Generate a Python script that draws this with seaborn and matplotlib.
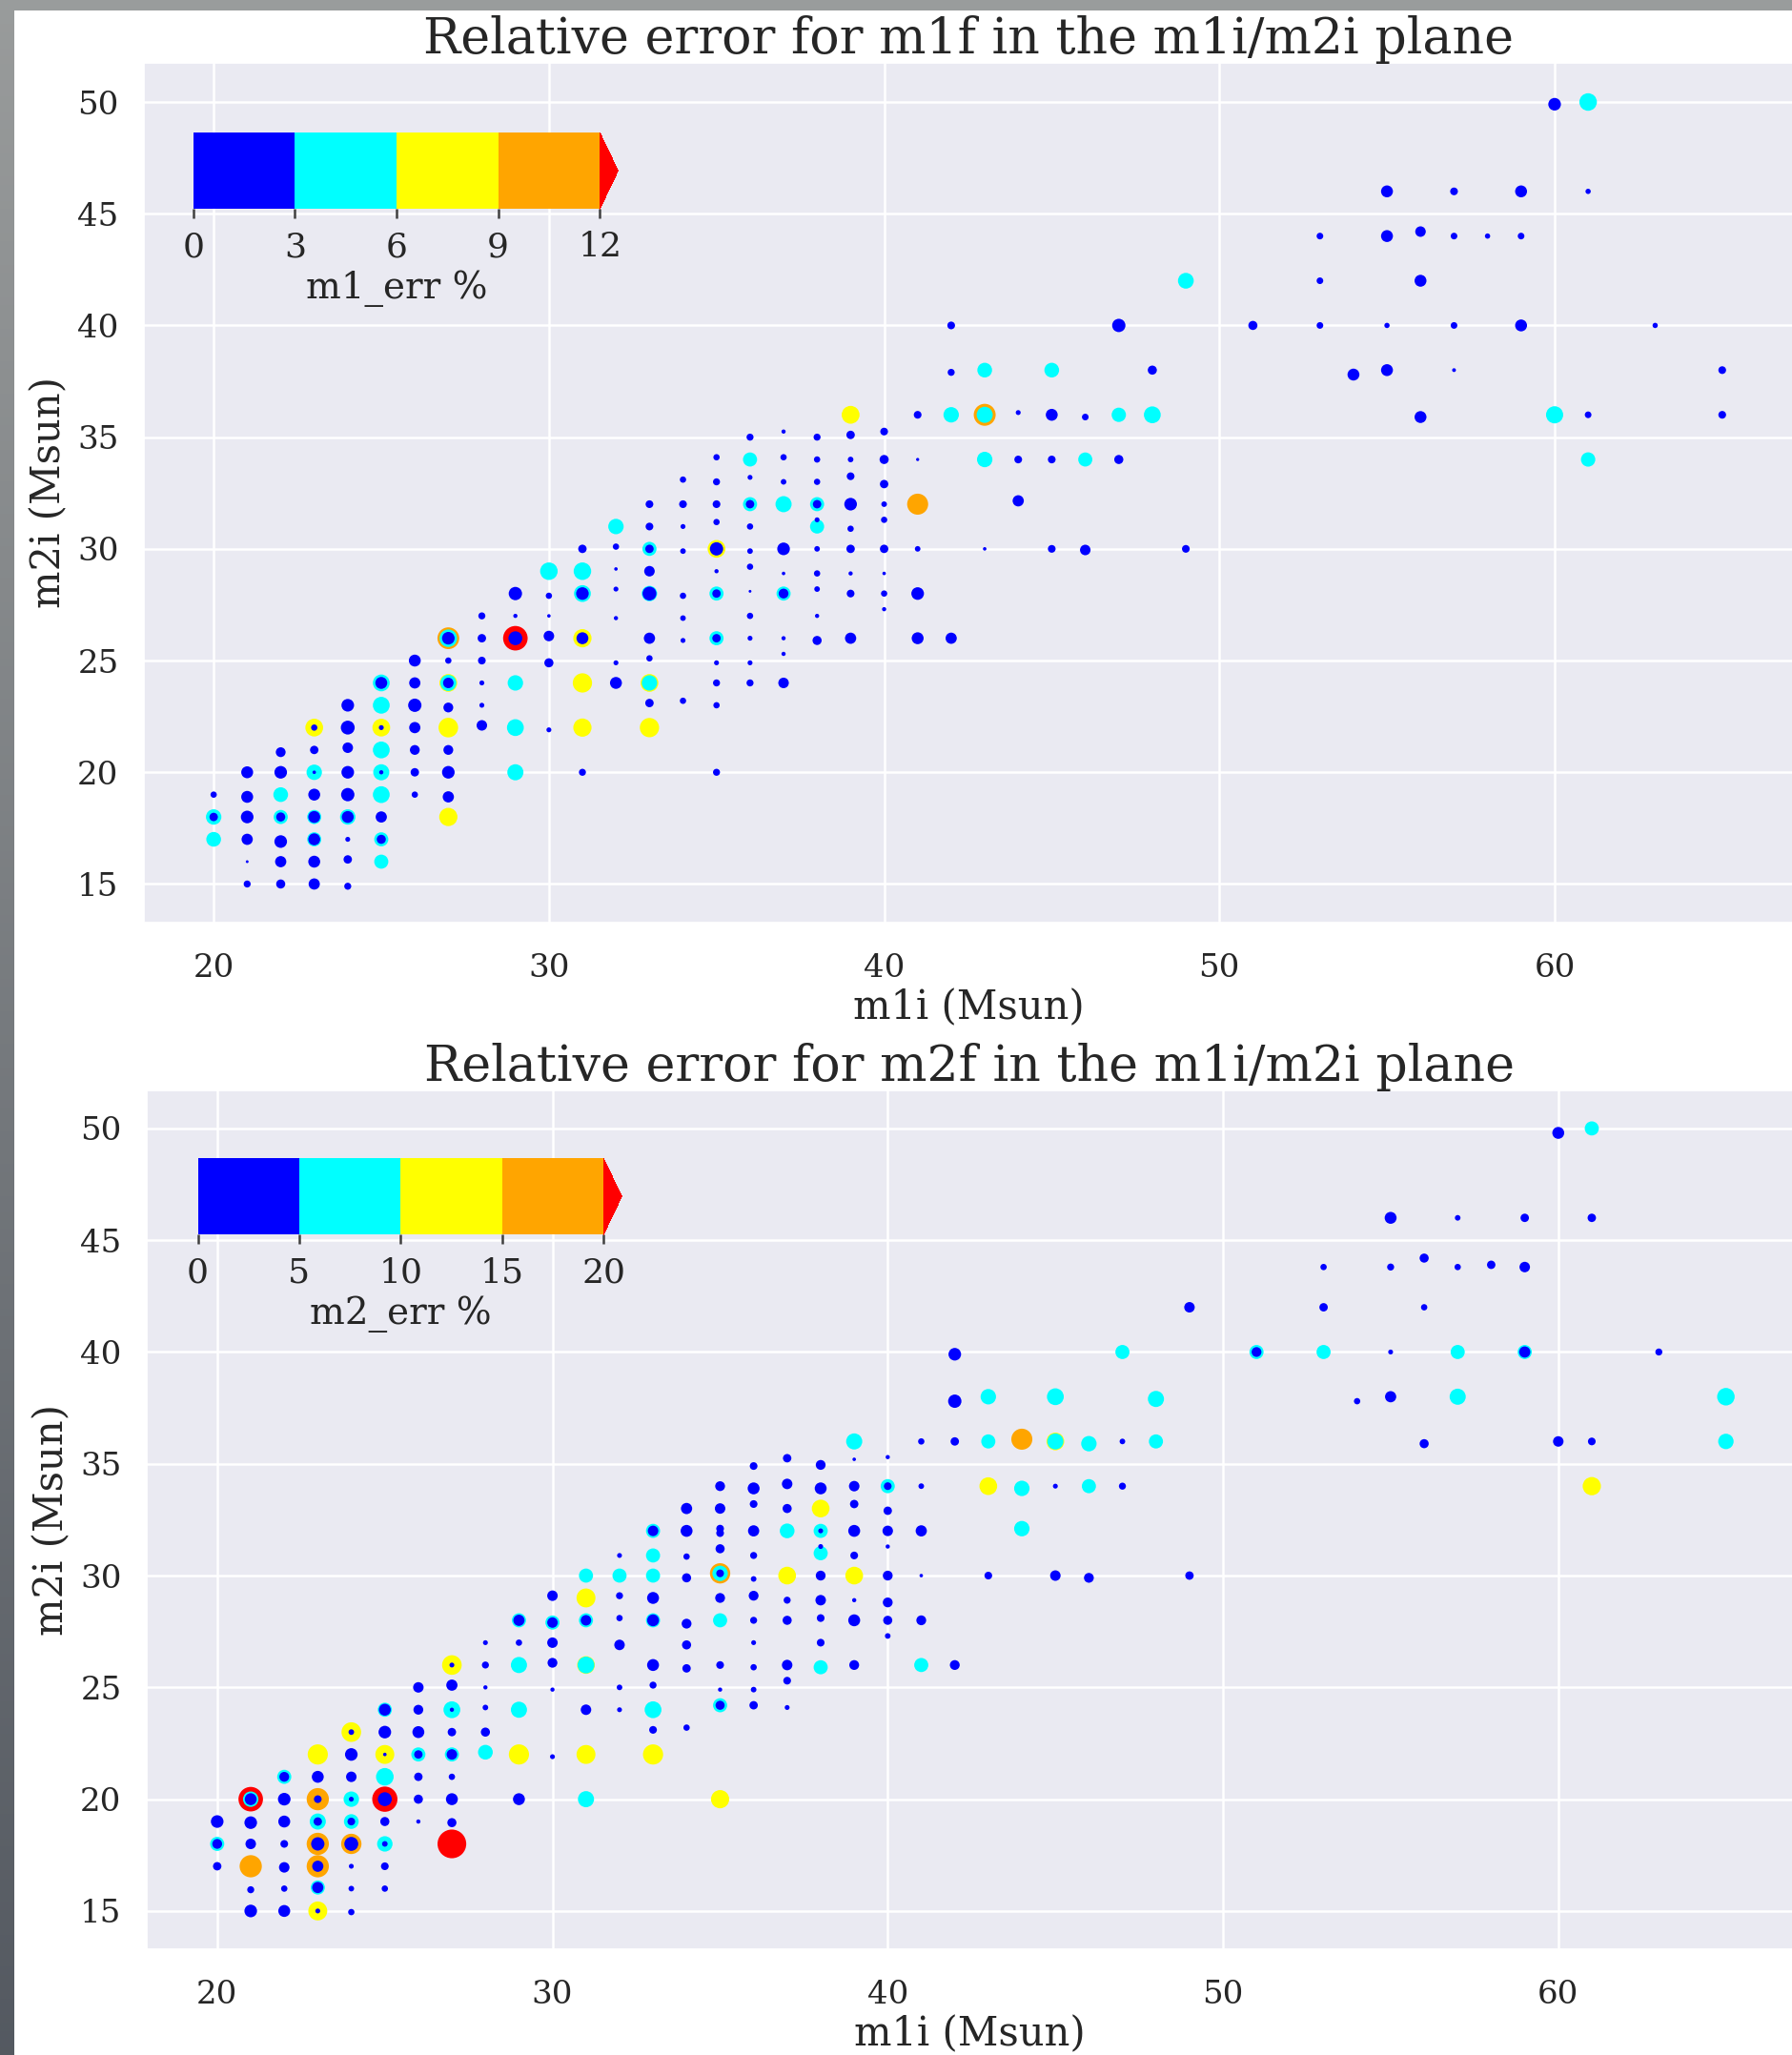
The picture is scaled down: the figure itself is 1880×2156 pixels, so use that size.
import numpy as np
import pandas as pd
import matplotlib
matplotlib.use("Agg")
import matplotlib.pyplot as plt
import matplotlib.colors as mcolors
from matplotlib.patches import Rectangle
import seaborn as sns

# ---------------- data: relative error of the final masses ----------------
# top panel: m1f error (%)
m1_m1i = [60, 61,
          55, 57, 59, 61,
          53, 55, 56, 57, 58, 59,
          49, 53, 56,
          42, 47, 51, 53, 55, 57, 59, 63,
          42, 43, 45, 48, 54, 55, 57, 65,
          39, 41, 42, 43, 43, 44, 45, 46, 47, 48, 56, 60, 61, 65,
          36, 37, 38, 39, 40,
          35, 36, 37, 38, 39, 40, 41, 43, 44, 45, 46, 47, 61,
          34, 35, 36, 37, 38, 39, 40,
          33, 34, 35, 36, 36, 37, 38, 38, 39, 40, 41, 44,
          32, 33, 34, 35, 36, 38, 38, 39, 40,
          31, 32, 33, 33, 34, 35, 35, 36, 37, 38, 39, 40, 41, 43, 45, 46, 49,
          30, 31, 32, 33, 35, 36, 37, 38, 39, 40,
          29, 30, 31, 31, 32, 33, 33, 34, 35, 35, 36, 37, 37, 38, 39, 40, 41,
          28, 29, 30, 32, 34, 36, 38, 40,
          27, 27, 27, 28, 29, 29, 30, 31, 31, 33, 34, 35, 35, 36, 37, 38, 39, 41, 42,
          26, 27, 28, 30, 32, 33, 35, 36, 37,
          25, 25, 26, 27, 27, 27, 28, 29, 31, 32, 33, 33, 35, 36, 37,
          24, 25, 26, 27, 28, 33, 34, 35,
          23, 23, 24, 25, 25, 26, 27, 28, 29, 30, 31, 33,
          22, 23, 24, 25, 26, 27,
          21, 22, 23, 23, 24, 25, 25, 26, 27, 29, 31, 35,
          20, 21, 22, 23, 24, 25, 26, 27,
          20, 20, 21, 22, 22, 23, 23, 24, 24, 25, 27,
          20, 21, 22, 23, 23, 24, 25, 25,
          21, 22, 23, 24, 25,
          21, 22, 23, 24]
m1_m2i = [49.9, 50,
          46, 46, 46, 46,
          44, 44, 44.2, 44, 44, 44,
          42, 42, 42,
          40, 40, 40, 40, 40, 40, 40, 40,
          37.9, 38, 38, 38, 37.8, 38, 38, 38,
          36, 36, 36, 36, 36, 36.1, 36, 35.9, 36, 36, 35.9, 36, 36, 36,
          35, 35.25, 35, 35.1, 35.25,
          34.1, 34, 34.1, 34, 34, 34, 34, 34, 34, 34, 34, 34, 34,
          33.1, 33, 33.2, 33, 33, 33.25, 32.9,
          32, 32, 32, 32, 32, 32, 32, 32, 32, 32, 32, 32.15,
          31, 31, 31, 31.2, 31, 31, 31.3, 30.9, 31.3,
          30, 30.1, 30, 30, 29.9, 30, 30, 29.9, 30, 30, 30, 30, 30, 30, 30, 29.95, 30,
          29, 29, 29.1, 29, 29, 29.2, 28.9, 28.9, 28.9, 28.9,
          28, 27.9, 28, 28, 28.2, 28, 28, 27.9, 28, 28, 28.1, 28, 28, 28.2, 28, 28, 28,
          27, 27, 27, 26.9, 26.9, 27, 27, 27.3,
          26, 26, 26, 26, 26, 26, 26.1, 26, 26, 26, 25.9, 26, 26, 26, 26, 25.9, 26, 26, 26,
          25, 25, 25, 24.9, 24.9, 25.1, 24.9, 24.9, 25.3,
          24, 24, 24, 24, 24, 24, 24, 24, 24, 24, 24, 24, 24, 24, 24,
          23, 23, 23, 22.9, 23, 23.1, 23.2, 23,
          22, 22, 22, 22, 22, 22, 22, 22.1, 22, 21.9, 22, 22,
          20.9, 21, 21.1, 21, 21, 21,
          20, 20, 20, 20, 20, 20, 20, 20, 20, 20, 20, 20,
          19, 18.9, 19, 19, 19, 19, 19, 18.9,
          18, 18, 18, 18, 18, 18, 18, 18, 18, 18, 18,
          17, 17, 16.9, 17, 17, 17, 17, 17,
          16, 16, 16, 16.1, 16,
          15, 15, 15, 14.9]
m1_err = [2.19, 5.86,
          1.84, 0.5, 1.84, 0.16,
          0.32, 1.84, 1.27, 0.32, 0.16, 0.32,
          4.27, 0.32, 1.84,
          0.5, 2.57, 0.82, 0.32, 0.16, 0.32, 1.84, 0.16,
          0.375, 3.47, 3.47, 0.82, 1.84, 1.84, 0.06, 0.5,
          6.2, 0.5, 3.99, 11.5, 4.56, 0.13, 1.84, 0.32, 3.2, 5.18, 1.84, 5.5, 0.32, 0.5,
          0.375, 0.08, 0.375, 0.65, 0.5,
          0.27, 3.05, 0.27, 0.27, 0.19, 0.82, 0.035, 3.99, 0.5, 0.5, 3.05, 0.82, 3.2,
          0.27, 0.375, 0.13, 0.19, 0.27, 0.5, 0.65,
          0.5, 0.5, 0.5, 3.05, 0.65, 4.56, 3.05, 0.65, 2.19, 0.19, 10.1, 1.54,
          3.99, 0.5, 0.13, 0.27, 0.27, 3.05, 0.13, 0.27, 0.27,
          0.65, 0.27, 3.05, 0.65, 0.19, 6.1, 2.57, 0.19, 2.19, 0.19, 0.65, 0.65, 0.19, 0.047, 0.5, 1.27, 0.5,
          5.86, 5.86, 0.047, 1.27, 0.08, 0.27, 0.047, 0.27, 0.08, 0.047,
          2.57, 0.27, 5.18, 2.19, 0.13, 3.99, 2.9, 0.27, 3.05, 0.65, 0.024, 3.05, 1.03, 0.19, 0.5, 0.27, 2.19,
          0.375, 0.08, 0.047, 0.08, 0.19, 0.27, 0.08, 0.08,
          11.2, 5.86, 2.19, 0.65, 16.1, 2.9, 1.27, 6.6, 1.84, 1.54, 0.13, 3.05, 0.65, 0.13, 0.08, 0.82, 1.54, 1.84, 1.54,
          1.84, 0.27, 0.5, 0.82, 0.13, 0.27, 0.13, 0.13, 0.08,
          5.18, 1.84, 1.54, 6.1, 4.56, 1.27, 0.13, 3.99, 7.8, 1.84, 6.1, 3.99, 0.375, 0.375, 1.27,
          2.19, 5.18, 2.57, 1.03, 0.13, 0.65, 0.27, 0.27,
          6.1, 0.27, 2.9, 6.1, 0.13, 1.54, 8.2, 1.27, 5.18, 0.13, 6.6, 7.8,
          1.03, 0.65, 1.27, 5.18, 1.03, 1.03,
          1.84, 2.19, 3.99, 0.047, 2.19, 4.56, 0.08, 0.65, 2.19, 4.56, 0.375, 0.375,
          0.27, 1.84, 3.47, 1.84, 2.57, 5.18, 0.27, 1.54,
          3.99, 0.65, 2.19, 3.05, 0.82, 3.05, 1.84, 3.99, 1.84, 1.54, 6.6,
          3.47, 1.54, 2.19, 3.05, 1.84, 0.13, 3.05, 0.82,
          0.024, 1.54, 1.84, 0.65, 3.05,
          0.375, 0.82, 1.54, 0.375]

# bottom panel: m2f error (%)
m2_m1i = [60, 61,
          55, 57, 59, 61,
          53, 55, 56, 57, 58, 59,
          49, 53, 56,
          42, 47, 51, 51, 53, 55, 57, 59, 59, 63,
          42, 43, 45, 48, 54, 55, 57, 65,
          39, 41, 42, 43, 44, 45, 45, 46, 47, 48, 56, 60, 61, 65,
          36, 37, 38, 39, 40,
          35, 36, 37, 38, 39, 40, 40, 41, 43, 44, 45, 46, 47, 61,
          34, 35, 36, 37, 38, 39, 40,
          33, 33, 34, 35, 35, 36, 37, 38, 38, 39, 40, 41, 44,
          32, 33, 34, 35, 36, 38, 38, 39, 40,
          31, 32, 33, 34, 35, 35, 35, 36, 37, 38, 39, 40, 41, 43, 45, 46, 49,
          30, 31, 32, 33, 35, 36, 37, 38, 39, 40,
          29, 29, 30, 30, 31, 31, 32, 33, 33, 34, 35, 36, 37, 38, 39, 40, 41,
          28, 29, 30, 32, 34, 36, 38, 40,
          27, 27, 28, 29, 30, 31, 31, 33, 34, 35, 36, 37, 38, 39, 41, 42,
          26, 27, 28, 30, 32, 33, 35, 36, 37,
          25, 25, 26, 27, 27, 28, 29, 31, 32, 33, 34, 35, 35, 36, 37,
          24, 24, 25, 26, 27, 28, 33,
          23, 24, 25, 25, 26, 26, 27, 27, 28, 29, 30, 31, 33,
          22, 22, 23, 24, 25, 26, 27,
          21, 21, 21, 22, 23, 23, 24, 24, 25, 25, 26, 27, 29, 31, 35,
          20, 21, 22, 23, 23, 24, 24, 25, 26, 27,
          20, 20, 21, 22, 23, 23, 24, 24, 25, 25, 27,
          20, 21, 22, 23, 23, 24, 25,
          21, 22, 23, 23, 24, 25,
          21, 22, 23, 23, 24]
m2_m2i = [49.8, 50,
          46, 46, 46, 46,
          43.8, 43.8, 44.2, 43.8, 43.9, 43.8,
          42, 42, 42,
          39.9, 40, 40, 40, 40, 40, 40, 40, 40, 40,
          37.8, 38, 38, 37.9, 37.8, 38, 38, 38,
          36, 36, 36, 36, 36.1, 36, 36, 35.9, 36, 36, 35.9, 36, 36, 36,
          34.9, 35.25, 34.95, 35.2, 35.3,
          34, 33.9, 34.1, 33.9, 34, 34, 34, 34, 34, 33.9, 34, 34, 34, 34,
          33, 33, 33.2, 33, 33, 33.2, 32.9,
          32, 32, 32, 32.1, 31.9, 32, 32, 32, 32, 32, 32, 32, 32.1,
          30.9, 30.9, 30.85, 31.2, 30.9, 31, 31.3, 30.9, 31.3,
          30, 30, 30, 29.9, 30.1, 30.1, 30.1, 29.85, 30, 30, 30, 30, 30, 30, 30, 29.9, 30,
          29.1, 29, 29.1, 29, 29, 29.1, 28.9, 28.9, 28.9, 28.8,
          28, 28, 27.9, 27.9, 28, 28, 28.1, 28, 28, 27.85, 28, 28, 28, 28.1, 28, 28, 28,
          27, 27, 27, 26.9, 26.9, 27, 27, 27.3,
          26, 26, 26, 26, 26.1, 26, 26, 26, 25.85, 26, 25.9, 26, 25.9, 26, 26, 26,
          25, 25.1, 25, 24.9, 25, 25.1, 24.9, 24.9, 25.3,
          24, 24, 24, 24, 24, 24.1, 24, 24, 24, 24, 23.2, 24.2, 24.2, 24.2, 24.1,
          23, 23, 23, 23, 23, 23, 23.1,
          22, 22, 22, 22, 22, 22, 22, 22, 22.1, 22, 21.9, 22, 22,
          21, 21, 21, 21, 21, 21, 21,
          20, 20, 20, 20, 20, 20, 20, 20, 20, 20, 20, 20, 20, 20, 20,
          19, 18.95, 19, 19, 19, 19, 19, 19, 19, 18.95,
          18, 18, 18, 18, 18, 18, 18, 18, 18, 18, 18,
          17, 17, 16.95, 17, 17, 17, 17,
          15.95, 16, 16.05, 16.05, 16, 16,
          15, 15, 15, 15, 14.95]
m2_err = [3.07, 5.1,
          3.07, 0.32, 1.08, 1.08,
          0.46, 0.625, 1.37, 0.46, 1.08, 2.1,
          2.1, 1.08, 0.46,
          3.64, 5.1, 5.1, 1.72, 5.1, 0.21, 5.1, 5.1, 2.56, 0.625,
          4.29, 6.66, 8.64, 7.6, 0.46, 2.56, 7.6, 9.77,
          7.6, 0.46, 1.08, 5.1, 16.9, 10.1, 7.6, 6.66, 0.32, 5.1, 1.37, 2.1, 0.83, 6.66,
          0.83, 1.08, 1.72, 0.078, 0.135,
          1.72, 3.07, 2.1, 3.07, 2.1, 5.1, 0.83, 0.32, 10.1, 6.66, 0.21, 5.1, 0.625, 11.0,
          2.56, 2.1, 0.83, 1.37, 10.1, 1.08, 1.08,
          5.1, 2.1, 3.07, 0.83, 0.83, 2.56, 5.8, 5.1, 0.21, 3.07, 2.1, 2.56, 6.66,
          0.21, 5.1, 0.46, 1.37, 0.625, 5.1, 0.21, 0.83, 0.135,
          5.1, 5.1, 5.1, 1.37, 15.2, 6.66, 0.83, 0.32, 10.1, 1.72, 10.1, 1.72, 0.078, 0.83, 2.1, 1.72, 1.08,
          2.1, 12.3, 0.625, 3.07, 1.72, 1.72, 0.625, 2.1, 0.135, 1.72,
          5.1, 2.56, 5.1, 2.1, 5.1, 2.1, 0.46, 5.1, 3.07, 1.72, 5.1, 0.625, 1.37, 0.83, 3.07, 1.37, 1.72,
          0.21, 0.46, 2.1, 2.1, 1.37, 0.21, 0.83, 0.32,
          13.7, 0.21, 0.625, 7.6, 1.72, 10.1, 8.64, 3.07, 1.08, 0.83, 0.46, 2.1, 5.1, 1.72, 5.1, 1.72,
          2.1, 2.56, 0.135, 0.135, 0.32, 0.625, 0.135, 0.32, 0.83,
          5.1, 3.07, 1.72, 8.64, 0.135, 0.32, 7.6, 2.1, 0.21, 8.64, 0.46, 5.1, 1.37, 1.08, 0.21,
          13.7, 0.32, 3.64, 3.07, 1.08, 1.37, 0.83,
          14.9, 3.64, 12.3, 0.078, 5.1, 1.08, 5.1, 2.1, 5.8, 14.9, 0.21, 12.3, 14.9,
          5.1, 1.72, 3.07, 2.1, 9.9, 1.08, 0.46,
          26.8, 6.66, 3.07, 3.64, 19.9, 0.83, 6.66, 0.21, 29.2, 4.9, 1.37, 3.07, 3.07, 7.6, 11.0,
          3.64, 3.64, 3.07, 7.6, 1.08, 5.8, 0.83, 1.37, 0.135, 1.37,
          5.1, 1.72, 2.1, 0.83, 19.9, 4.29, 15.2, 4.9, 6.66, 0.32, 43.0,
          1.08, 19.9, 2.1, 19.9, 2.56, 0.21, 0.83,
          0.625, 0.46, 5.1, 2.56, 0.32, 0.46,
          3.64, 3.07, 12.3, 0.21, 0.46]

m1_bounds = [0, 3, 6, 9, 12]
m2_bounds = [0, 5, 10, 15, 20]
band_colors = ["#0000ff", "#00ffff", "#ffff00", "#ffa500"]
over_color = "#ff0000"

# ---------------- style ----------------
sns.set_theme(style="darkgrid")
plt.rcParams["font.family"] = ["DejaVu Serif"]
plt.rcParams["grid.linewidth"] = 1.8

W, H = 1881, 2156
DPI = 100
fig = plt.figure(figsize=(W / DPI, H / DPI), dpi=DPI)
fig.patch.set_facecolor("white")

AREA_AT_STEP = 112.0  # marker area (pt^2) for an error equal to the first colour step


def panel(rect, m1, m2, err, bounds, cbar_label, title, xlim, ylim, cbar_rect):
    ax = fig.add_axes(rect)
    df = pd.DataFrame({"m1i": m1, "m2i": m2, "err": err})
    step = bounds[1]
    df["area"] = AREA_AT_STEP * (df["err"] / step) ** (2.0 / 3.0)
    df["band"] = np.digitize(df["err"], bounds[1:])
    # large markers first so the smaller ones stay visible on top
    df = df.sort_values("err", ascending=False, kind="stable").reset_index(drop=True)
    palette = {i: c for i, c in enumerate(band_colors + [over_color])}
    sizes = {a: a for a in df["area"].unique()}
    sns.scatterplot(data=df, x="m1i", y="m2i", hue="band", palette=palette,
                    size="area", sizes=sizes, linewidth=0, edgecolor="none",
                    legend=False, ax=ax)
    ax.set_xlim(*xlim)
    ax.set_ylim(*ylim)
    ax.set_xticks([20, 30, 40, 50, 60])
    ax.set_yticks([15, 20, 25, 30, 35, 40, 45, 50])
    ax.tick_params(axis="x", labelsize=24.5, pad=17)
    ax.tick_params(axis="y", labelsize=24.5, pad=13)
    ax.set_xlabel("m1i (Msun)", fontsize=30, labelpad=3)
    ax.set_ylabel("m2i (Msun)", fontsize=30, labelpad=6)
    ax.set_title(title, fontsize=37.5, pad=7)

    cmap = mcolors.ListedColormap(band_colors)
    cmap.set_over(over_color)
    norm = mcolors.BoundaryNorm(bounds, cmap.N)
    cax = ax.inset_axes(cbar_rect)
    sm = plt.cm.ScalarMappable(norm=norm, cmap=cmap)
    cb = fig.colorbar(sm, cax=cax, orientation="horizontal", extend="max",
                      ticks=bounds, extendfrac=0.045)
    cb.outline.set_visible(False)
    cax.tick_params(bottom=True, length=7, width=1.8, color=".25",
                    direction="out", labelsize=26, pad=9.5)
    cax.set_xlabel(cbar_label, fontsize=28, labelpad=5)
    return ax


panel([151 / W, 1 - 968 / H, (W - 151) / W, (968 - 66) / H],
      m1_m1i, m1_m2i, m1_err, m1_bounds, "m1_err %",
      "Relative error for m1f in the m1i/m2i plane",
      (17.92, 67.11), (13.27, 51.75), [0.030, 0.830, 0.2575, 0.089])

panel([154 / W, 1 - 2045 / H, (W - 154) / W, (2045 - 1144) / H],
      m2_m1i, m2_m2i, m2_err, m2_bounds, "m2_err %",
      "Relative error for m2f in the m1i/m2i plane",
      (17.90, 67.0), (13.29, 51.7), [0.031, 0.832, 0.2575, 0.089])

# grey window frame along the left and top edges
strip = fig.add_axes([0, 0, 15 / W, 1])
grad = np.linspace(0, 1, 256)[:, None]
top_rgb = np.array([0.60, 0.61, 0.61])
bot_rgb = np.array([0.33, 0.35, 0.38])
img = top_rgb[None, None, :] * (1 - grad[..., None]) + bot_rgb[None, None, :] * grad[..., None]
strip.imshow(img, aspect="auto", extent=(0, 1, 0, 1), origin="upper")
strip.set_axis_off()
fig.patches.append(Rectangle((0, 1 - 11 / H), 1, 11 / H, transform=fig.transFigure,
                             facecolor=(0.60, 0.61, 0.61), edgecolor="none", zorder=5))

fig.savefig("out.png", dpi=DPI)
